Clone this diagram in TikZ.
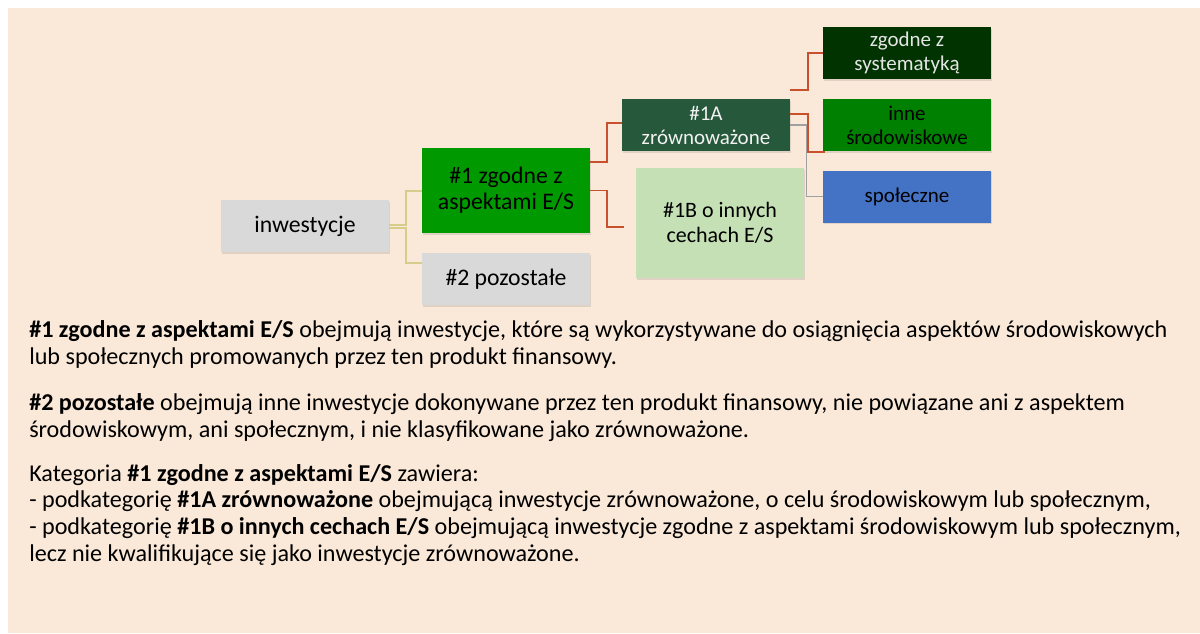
\documentclass[tikz,border=0pt]{standalone}
\usepackage{fontspec}
\setmainfont{Carlito}
\usetikzlibrary{calc,shadows}
\definecolor{beige}{RGB}{250,232,216}
\definecolor{boxgray}{RGB}{217,217,217}
\definecolor{green1}{RGB}{0,153,0}
\definecolor{green1a}{RGB}{38,88,59}
\definecolor{green1b}{RGB}{197,224,180}
\definecolor{greendark}{RGB}{0,51,0}
\definecolor{greenmid}{RGB}{0,128,0}
\definecolor{bluesoc}{RGB}{68,114,196}
\definecolor{tanline}{RGB}{214,204,140}
\definecolor{redline}{RGB}{200,80,45}
\definecolor{grayline}{RGB}{160,160,160}
\tikzset{
  box/.style={rectangle, inner sep=0pt, align=center, minimum width=126pt, minimum height=39pt,
    drop shadow={shadow xshift=0.6pt, shadow yshift=-1.2pt, opacity=0.22}},
  bigtxt/.style={font=\fontsize{17.8}{19.5}\selectfont},
  smalltxt/.style={font=\fontsize{15.75}{18}\selectfont},
  tanconn/.style={draw=tanline, line width=1.5pt},
  redconn/.style={draw=redline, line width=1.4pt},
  grayconn/.style={draw=grayline, line width=1.1pt},
  bodyline/.style={anchor=base west, inner sep=0pt, font=\fontsize{18.1}{20}\selectfont, text=black}
}
\begin{document}
\begin{tikzpicture}[x=0.75pt,y=-0.75pt]
\useasboundingbox (0,0) rectangle (1200,633);
\fill[white] (0,0) rectangle (1200,633);
\fill[beige] (8,8) rectangle (1200,633);

% boxes
\node[box, bigtxt, fill=boxgray] (inw) at (305,226) {inwestycje};
\node[box, bigtxt, fill=green1, minimum height=63.75pt] (c1) at (506,190.5) {\#1 zgodne z\\aspektami E/S};
\node[box, bigtxt, fill=boxgray] (c2) at (506,279) {\#2 pozostałe};
\node[box, smalltxt, fill=green1a, text=white!95!black] (a1) at (706,125) {\#1A\\zrównoważone};
\node[box, font=\fontsize{16.5}{18.3}\selectfont, fill=green1b, minimum height=82.5pt] (b1) at (720,223) {\#1B o innych\\cechach E/S};
\node[box, smalltxt, fill=greendark, text=white!90!black] (s1) at (907,53) {zgodne z\\systematyką};
\node[box, smalltxt, fill=greenmid] (s2) at (907,125) {inne\\środowiskowe};
\node[box, smalltxt, fill=bluesoc] (s3) at (907,196.5) {społeczne};

% connectors
\draw[tanconn] ($(inw.east)+(0,-1)$) -- ++(17,0) |- (c1.west);
\draw[tanconn] ($(inw.east)+(0,2)$) -- ++(17,0) |- ($(c2.north west)+(0,10)$);
\draw[redconn] ($(c1.north east)+(0,14)$) -- ++(17,0) |- ($(a1.west)+(0,-2)$);
\draw[redconn] (c1.east) -- ++(17,0) |- ($(b1.west)+(-12,4)$);
\draw[redconn] ($(a1.north east)+(0,-9)$) -- ++(18,0) |- (s1.west);
\draw[redconn] ($(a1.north east)+(0,15)$) -- ++(18,0) |- ($(s2.south west)+(2,1)$);
\draw[grayconn] (a1.east) -- ++(16,0) |- (s3.west);

% body text
\node[bodyline] (p1a) at (29,337) {\textbf{\#1 zgodne z aspektami E/S} obejmują inwestycje, które są wykorzystywane do osiągnięcia aspektów środowiskowych};
\node[bodyline] (p1b) at (29,364) {lub społecznych promowanych przez ten produkt finansowy.};
\node[bodyline] (p2a) at (29,410) {\textbf{\#2 pozostałe} obejmują inne inwestycje dokonywane przez ten produkt finansowy, nie powiązane ani z aspektem};
\node[bodyline] (p2b) at (29,437) {środowiskowym, ani społecznym, i nie klasyfikowane jako zrównoważone.};
\node[bodyline] (p3a) at (29,481) {Kategoria \textbf{\#1 zgodne z aspektami E/S} zawiera:};
\node[bodyline] (p3b) at (29,507.5) {- podkategorię \textbf{\#1A zrównoważone} obejmującą inwestycje zrównoważone, o celu środowiskowym lub społecznym,};
\node[bodyline] (p3c) at (29,534) {- podkategorię \textbf{\#1B o innych cechach E/S} obejmującą inwestycje zgodne z aspektami środowiskowym lub społecznym,};
\node[bodyline] (p3d) at (29,561) {lecz nie kwalifikujące się jako inwestycje zrównoważone.};
\end{tikzpicture}
\end{document}
